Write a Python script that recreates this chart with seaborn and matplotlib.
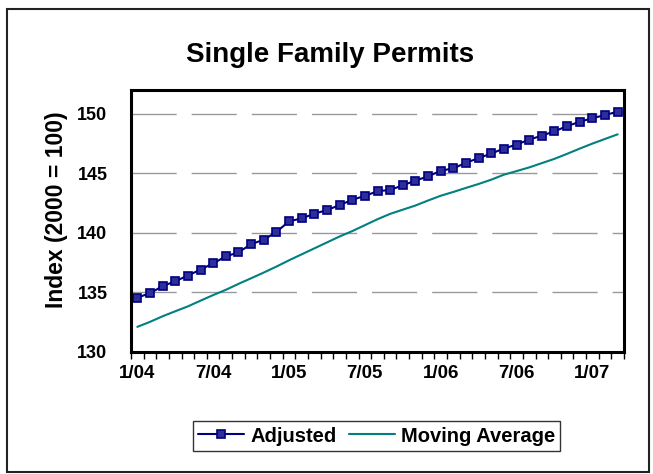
import numpy as np
import pandas as pd
import matplotlib
matplotlib.use("Agg")
import matplotlib.pyplot as plt
import seaborn as sns
from matplotlib.patches import Rectangle
from matplotlib.ticker import FixedLocator

# monthly data, 1/04 .. 3/07
months = pd.date_range("2004-01-01", "2007-03-01", freq="MS")
adjusted = [134.56, 134.94, 135.53, 135.94, 136.42, 136.92, 137.44, 138.03, 138.36, 139.06,
            139.42, 140.08, 140.97, 141.22, 141.61, 141.92, 142.33, 142.78, 143.11, 143.50,
            143.61, 144.00, 144.39, 144.75, 145.22, 145.42, 145.89, 146.28, 146.67, 147.08,
            147.42, 147.83, 148.17, 148.53, 148.97, 149.33, 149.64, 149.89, 150.19]
moving_avg = [132.11, 132.53, 133.00, 133.42, 133.83, 134.31, 134.78, 135.22, 135.72, 136.19,
              136.67, 137.17, 137.70, 138.20, 138.70, 139.20, 139.70, 140.15, 140.65, 141.15,
              141.60, 141.95, 142.30, 142.72, 143.12, 143.44, 143.78, 144.11, 144.47, 144.89,
              145.19, 145.50, 145.86, 146.22, 146.64, 147.08, 147.50, 147.89, 148.28]
tick_labels = ["1/04", "7/04", "1/05", "7/05", "1/06", "7/06", "1/07"]
y_ticks = [130, 135, 140, 145, 150]

df = pd.DataFrame({"pos": np.arange(len(months)), "Adjusted": adjusted, "Moving Average": moving_avg})

sns.set_style("white")
plt.rcParams["font.family"] = ["Liberation Sans", "DejaVu Sans"]
plt.rcParams["font.weight"] = "bold"
plt.rcParams["text.color"] = "black"
plt.rcParams["axes.labelcolor"] = "black"
plt.rcParams["xtick.color"] = "black"
plt.rcParams["ytick.color"] = "black"

fig = plt.figure(figsize=(6.53, 4.74), dpi=100)
ax = fig.add_axes([131/653, 1 - 352/474, 493/653, 262/474])

sns.lineplot(data=df, x="pos", y="Adjusted", ax=ax, color="#000080", linewidth=1.5,
             marker="s", markersize=5.5, markerfacecolor="#2e2e9a", markeredgecolor="#000080",
             markeredgewidth=1.2, label="Adjusted")
sns.lineplot(data=df, x="pos", y="Moving Average", ax=ax, color="#008080", linewidth=1.5,
             label="Moving Average")

ax.set_xlim(-0.5, len(months) - 0.5)
ax.set_ylim(130, 152)
ax.set_yticks(y_ticks)
ax.set_yticklabels([str(v) for v in y_ticks], fontsize=13, fontweight="bold")
ax.set_xticks(np.arange(0, len(months), 6))
ax.set_xticklabels(tick_labels, fontsize=13.5, fontweight="bold")
ax.xaxis.set_minor_locator(FixedLocator(np.arange(-0.5, len(months), 1)))
ax.tick_params(axis="x", which="major", length=0, pad=9)
ax.tick_params(axis="x", which="minor", length=5, width=1, color="black", bottom=True, direction="out")
ax.tick_params(axis="y", length=0, pad=17)

for v in y_ticks[1:]:
    ax.axhline(v, color="#999999", linewidth=1, dashes=(32.5, 10.8), zorder=0)

for s in ax.spines.values():
    s.set_color("black")
    s.set_linewidth(2.2)

ax.set_xlabel("")
ax.set_ylabel("Index (2000 = 100)", fontsize=16.5, fontweight="bold")
ax.yaxis.set_label_coords(-0.128, 0.542)

fig.text(330/653, 1 - 61.7/474, "Single Family Permits", ha="center", va="baseline",
         fontsize=20, fontweight="bold")

ax.get_legend().remove()
h, l = ax.get_legend_handles_labels()
leg = fig.legend(h, l, loc="center", bbox_to_anchor=(376.5/653, 1 - 436/474), ncol=2,
                 frameon=True, fancybox=False, edgecolor="black", fontsize=14.5,
                 handlelength=2.3, handletextpad=0.3, columnspacing=0.6,
                 borderpad=0.25, borderaxespad=0)
leg.get_frame().set_linewidth(1)
for t in leg.get_texts():
    t.set_fontweight("bold")

fig.patches.append(Rectangle((7/653, 1 - 472/474), 642/653, 463/474, transform=fig.transFigure,
                             fill=False, edgecolor="#222222", linewidth=1.5))

fig.savefig("out.png", dpi=100)
